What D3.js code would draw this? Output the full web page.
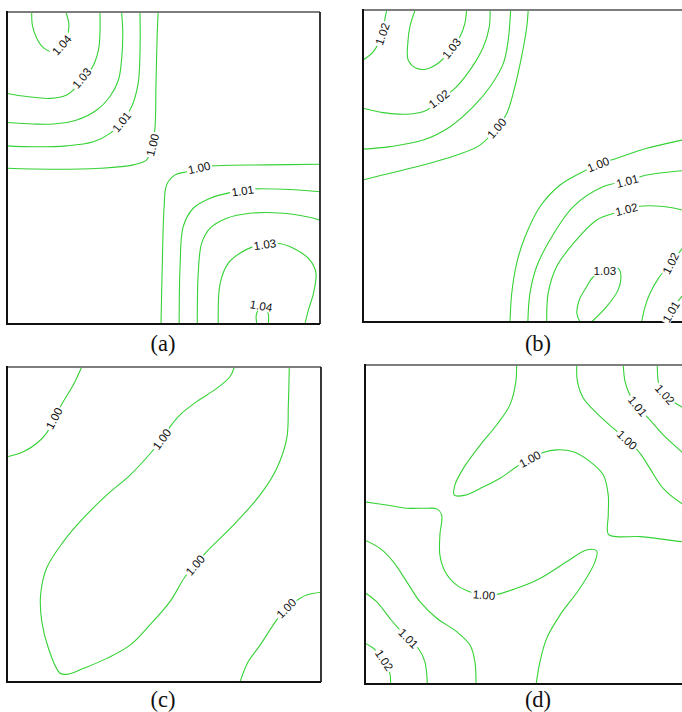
<!DOCTYPE html>
<html>
<head>
<meta charset="utf-8">
<script src="https://cdn.jsdelivr.net/npm/d3@7"></script>
<style>
  body { margin: 0; background: #fff; }
  svg { display: block; }
</style>
</head>
<body>
<svg id="chart" width="682" height="712"></svg>
<script>
// Contour lines of the ratio field for four cases, in grid units (0-100 on each axis, y up).
// Each label entry: [line index, vertex index, optional fixed angle in degrees].

const contoursA = [
  { level: 1.04, pts: [[7.9,100],[8.1,95.8],[9.5,91.6],[11.6,88.6],[14.8,87.3],[17.5,89.4],[19.1,92.1],[19.8,95.8],[18.8,100]] },
  { level: 1.03, pts: [[0,73.9],[6.3,72.9],[13.7,72.3],[19.1,73.4],[21.7,75.5],[23.9,78.8],[27.1,82],[29.2,87.8],[29.7,93.2],[29.7,100]] },
  { level: 1.02, pts: [[0,64.6],[8.4,64.1],[14.8,64.1],[22.3,65.4],[28.7,68.6],[32.9,72.9],[35.6,78.2],[36.6,84.6],[37,93.2],[36.6,100]] },
  { level: 1.01, pts: [[0,57.1],[8.4,56.8],[19.1,57.1],[27.6,58.4],[32.9,61.1],[36.6,64.8],[39.8,69.6],[41.9,77.1],[42.5,87.8],[42.5,100]] },
  { level: 1.00, pts: [[0,49.9],[13.7,49.6],[29.7,49.9],[40.4,51],[44.6,52.6],[46.5,57.4],[47.3,63.2],[47.6,77.1],[48,93.2],[48.3,100]] },
  { level: 1.00, pts: [[49.2,0],[49.6,18.4],[50.2,37.6],[51,44.6],[53.7,47.8],[57.4,48.8],[61.4,50.1],[65.9,50.7],[83,51],[100,51.2]] },
  { level: 1.01, pts: [[55,0],[55.3,18.4],[56.3,31.2],[59.5,37.1],[64.9,40.3],[71.2,42.1],[75.3,42.7],[79.2,43.3],[88.3,43.2],[100,42.4]] },
  { level: 1.02, pts: [[60.8,0],[61.1,16.3],[62.2,25.9],[64.9,30.7],[70.2,33.9],[77.6,35.5],[88.3,35.5],[95.8,34.4],[100,33.3]] },
  { level: 1.03, pts: [[67.5,0],[68.1,13],[70.7,19.5],[74.4,22.7],[78.7,24.8],[82.4,25.5],[86.2,25.9],[91.5,24.3],[96.8,20.5],[98.7,16.3],[97.9,9.8],[96.3,4.5],[95.2,0]] },
  { level: 1.04, pts: [[79.8,0],[79.6,2.6],[80.2,4.5],[81.2,5.8],[82.7,4.8],[83.5,3.2],[83.5,0]] }
];
const labelsA = [[0,5],[1,5],[3,5],[4,5],[5,6],[6,6],[8,5],[9,3,10]];

const contoursB = [
  { level: 1.02, pts: [[0,84],[2.9,86.6],[5.5,92.3],[6.3,97.4],[6.8,100]] },
  { level: 1.03, pts: [[14.9,100],[13.4,94.7],[12.8,89.3],[12.9,84],[15.3,81.3],[18.2,81.1],[22,83.4],[25.3,87.7],[27.7,91.4],[29.1,95.7],[29.6,100]] },
  { level: 1.02, pts: [[0,68.5],[5.8,67.1],[12.5,66.6],[18.2,67.9],[21.7,71.5],[25.8,74.4],[30.6,80.8],[34.4,88.2],[36.1,94.7],[36.3,100]] },
  { level: 1.01, pts: [[0,55.4],[7.7,56.2],[17.2,58.3],[24.9,62.6],[31.5,69],[36.3,75.4],[40.1,82.9],[41.5,90.4],[42,96.8],[42.2,100]] },
  { level: 1.00, pts: [[0,45.5],[7.7,47.7],[17.2,50.3],[26.8,53.5],[33.4,56.7],[38.2,62.1],[41.1,66.9],[42.9,73.3],[45.3,85],[46.8,94.7],[47.2,100]] },
  { level: 1.00, pts: [[42,0],[42.5,9.2],[43.9,18.8],[46.3,27.3],[50.6,37],[56.3,43.9],[62,47.7],[67.2,50.5],[72.5,52.5],[81.1,55.7],[91.1,58.3],[100,60.6]] },
  { level: 1.01, pts: [[47.1,0],[47.7,9.2],[49.6,17.7],[53.4,26.3],[60.1,37],[68.7,43.4],[75.5,45.2],[81.1,47.1],[91.1,48.5],[100,49.4]] },
  { level: 1.02, pts: [[52.5,0],[52.9,9.2],[55.3,17.7],[60.1,25.2],[66.8,32.7],[71.5,34.8],[75.3,36.1],[80.1,37.2],[85.8,37],[91.1,35.9],[96.3,33.3]] },
  { level: 1.03, pts: [[62,0],[61.1,2.8],[61.8,7.1],[63.9,11.3],[65.8,14.5],[69.1,16.3],[72.9,17.2],[73.7,14.5],[72.9,10.3],[69.6,4.9],[65.3,0]] },
  { level: 1.02, pts: [[79.6,0],[80.6,4.9],[82,9.2],[84.4,14],[87.9,18.8],[90.9,23.1],[94,27.6]] },
  { level: 1.01, pts: [[86.6,0],[88,3.3],[90.3,7.1],[93.4,10.9]] }
];
const labelsB = [[0,2],[1,7],[2,4],[4,5],[5,7],[6,6],[7,6],[8,5,0],[9,4,-63],[10,1]];

const contoursC = [
  { level: 1.00, pts: [[0,71.5],[5.2,73.1],[9.5,75.8],[12.6,79],[15,83.7],[17.9,89],[21.1,94.3],[23.8,100]] },
  { level: 1.00, pts: [[72.4,100],[71,96.9],[66.8,93.2],[60.4,89],[55.1,84.8],[51.9,81],[49.3,77.1],[46.1,73.1],[39.2,65.7],[31.8,59.4],[24.3,52],[17.9,44.5],[12.6,36.1],[10.7,27.6],[11.1,19.1],[13.2,10.7],[16.9,2.8],[19.5,2.5],[24.3,4.3],[31.8,7.5],[39.2,11.7],[45.5,18.1],[51.9,25.5],[56.7,33.4],[59.9,37.1],[63.6,41.4],[72.1,49.8],[80.6,59.4],[85.9,67.8],[89.1,77.4],[89.6,87.9],[89.9,100]] },
  { level: 1.00, pts: [[100,28.5],[95.4,27.6],[91.7,25.5],[88.9,23.4],[85.9,19.7],[80.6,11.7],[76.8,6.4],[74.2,0]] }
];
const labelsC = [[0,4],[1,6],[1,24],[2,3]];

const contoursD = [
  { level: 1.00, pts: [[43.3,100],[43.1,94.8],[41.4,87.5],[37.6,81.2],[32.9,74.9],[28.1,67.6],[25.7,62.4],[25.5,59.2],[28.6,59.2],[32.9,61.3],[38.6,64.5],[43.3,68.1],[47.1,70.5],[50.9,72.6],[54.8,73.4],[59.5,72.8],[64.3,69.7],[68.1,65.5],[69.5,59.2],[69.5,53],[69.5,47],[71.9,46.2],[78.6,46.2],[84.3,45.5],[90.5,44.6],[100,43.6]] },
  { level: 1.00, pts: [[0,57.1],[6.2,56.1],[11.9,55.1],[17.6,55.1],[20.5,54.9],[21.9,53],[21.4,46.7],[21.4,40.4],[22.9,35.2],[26.2,31],[30.5,28.7],[34,27.9],[37.6,28.1],[43.3,30],[50,33.1],[57.6,38.3],[63.3,42],[66.2,41.7],[65.7,38.3],[61.4,30],[55.7,21.6],[51.9,14.3],[50,7],[48.9,0]] },
  { level: 1.00, pts: [[0,45.1],[4.3,42.5],[8.1,38.3],[11.9,32.1],[15.7,25.8],[20.5,20.6],[26.2,16.4],[30,12.2],[31.4,7],[31.7,0]] },
  { level: 1.01, pts: [[0,28.6],[3.3,25.8],[7.1,20.6],[9.5,17.5],[12.4,14.3],[15.2,11.2],[17.1,7],[17.8,0]] },
  { level: 1.02, pts: [[0,12.8],[2.4,11.2],[5.5,7.5],[7.1,3.4],[7.3,0]] },
  { level: 1.00, pts: [[60.5,100],[60.7,94.8],[62.4,89.6],[66.2,84.9],[70.9,80.2],[74.9,76.5],[78.6,72.3],[81.4,67.6],[85.2,61.3],[90.5,56.6],[95.7,53.9]] },
  { level: 1.01, pts: [[73.8,100],[74.3,94.8],[75.7,90.6],[77.9,87.1],[81.4,82.8],[85.2,78.1],[90.5,72.8],[95.7,68]] },
  { level: 1.02, pts: [[83.5,100],[83.8,94.8],[84.3,93.2],[85.7,90.8],[88.1,88.5],[90.5,86.9],[95.7,84.3]] }
];
const labelsD = [[0,12],[1,11],[3,4],[4,2],[5,5],[6,3],[7,3]];

const captions = ["(a)", "(b)", "(c)", "(d)"];

// Panel layout on the page
const layout = [
  { x: 7,   y: 12,  w: 313, h: 312 },
  { x: 363, y: 10,  w: 350, h: 312 },
  { x: 7,   y: 367, w: 314, h: 315 },
  { x: 365, y: 365, w: 350, h: 319 }
];
const captionPos = [[163, 351], [538, 351], [163, 707], [538, 707]];

const panels = [
  { id: "a", lines: contoursA, labels: labelsA },
  { id: "b", lines: contoursB, labels: labelsB },
  { id: "c", lines: contoursC, labels: labelsC },
  { id: "d", lines: contoursD, labels: labelsD }
];

const svg = d3.select("#chart");
const defs = svg.append("defs");
const fmt = d3.format(".2f");
const lineColor = "#35d235";

panels.forEach((p, i) => {
  const box = layout[i];
  const x = d3.scaleLinear().domain([0, 100]).range([box.x, box.x + box.w]);
  const y = d3.scaleLinear().domain([0, 100]).range([box.y + box.h, box.y]);

  const clipId = "clip-" + p.id;
  defs.append("clipPath").attr("id", clipId)
    .append("rect").attr("x", box.x).attr("y", box.y).attr("width", box.w).attr("height", box.h);

  const g = svg.append("g").attr("class", "panel-" + p.id);

  const line = d3.line()
    .x(d => x(d[0]))
    .y(d => y(d[1]))
    .curve(d3.curveCatmullRom.alpha(0.5));

  g.append("g").attr("clip-path", `url(#${clipId})`)
    .selectAll("path")
    .data(p.lines)
    .join("path")
    .attr("d", d => line(d.pts))
    .attr("fill", "none")
    .attr("stroke", lineColor)
    .attr("stroke-width", 1.1);

  // frame: light top edge, dark left/bottom/right edges
  const x0 = box.x, x1 = box.x + box.w, y0 = box.y, y1 = box.y + box.h;
  g.append("line").attr("x1", x0).attr("x2", x1).attr("y1", y0).attr("y2", y0)
    .attr("stroke", "#7d7d7d").attr("stroke-width", 1.8);
  g.append("line").attr("x1", x1).attr("x2", x1).attr("y1", y0).attr("y2", y1)
    .attr("stroke", "#222").attr("stroke-width", 1.8);
  g.append("line").attr("x1", x0).attr("x2", x1).attr("y1", y1).attr("y2", y1)
    .attr("stroke", "#111").attr("stroke-width", 2);
  g.append("line").attr("x1", x0).attr("x2", x0).attr("y1", y0 - 1).attr("y2", y1 + 1)
    .attr("stroke", "#111").attr("stroke-width", 2);

  // contour labels sitting on their lines, with a white patch under the text
  p.labels.forEach(([li, vi, fixed]) => {
    const c = p.lines[li];
    const pts = c.pts;
    const pt = pts[vi];
    let ang = fixed;
    if (ang === undefined) {
      const a = pts[Math.max(0, vi - 1)], b = pts[Math.min(pts.length - 1, vi + 1)];
      ang = Math.atan2(y(b[1]) - y(a[1]), x(b[0]) - x(a[0])) * 180 / Math.PI;
      if (ang > 90) ang -= 180;
      if (ang < -90) ang += 180;
    }
    const lg = g.append("g")
      .attr("transform", `translate(${x(pt[0])},${y(pt[1])}) rotate(${ang})`);
    const rect = lg.append("rect").attr("fill", "#fff");
    const t = lg.append("text")
      .attr("text-anchor", "middle")
      .attr("dy", "0.36em")
      .attr("font-family", "'Liberation Sans', Arial, sans-serif")
      .attr("font-size", 11.6)
      .attr("fill", "#111")
      .text(fmt(c.level));
    const bb = t.node().getBBox();
    rect.attr("x", bb.x - 1.5).attr("y", bb.y + 1)
      .attr("width", bb.width + 3).attr("height", bb.height - 2);
  });

  svg.append("text")
    .attr("x", captionPos[i][0]).attr("y", captionPos[i][1])
    .attr("text-anchor", "middle")
    .attr("font-family", "'Liberation Serif', 'Times New Roman', serif")
    .attr("font-size", 22.5)
    .attr("fill", "#111")
    .text(captions[i]);
});
</script>
</body>
</html>
